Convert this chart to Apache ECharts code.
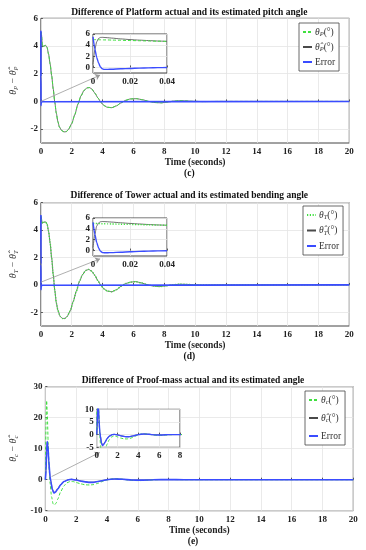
<!DOCTYPE html>
<html><head><meta charset="utf-8">
<script src="https://cdn.jsdelivr.net/npm/echarts@6/dist/echarts.min.js"></script>
<style>html,body{margin:0;padding:0;background:#fff}#c{width:366px;height:550px}</style>
</head><body><div id="c"></div>
<script>
// ---------- DATA ----------
var titles = ['Difference of Platform actual and its estimated pitch angle',
              'Difference of Tower actual and its estimated bending angle',
              'Difference of Proof-mass actual and its estimated angle'];
var subLetters = ['(c)', '(d)', '(e)'];
var xName = 'Time (seconds)';
var mainXTicks = [0, 20, 2];
var yTicksP = [-2, 0, 2, 4, 6];
var yTicksInset = [0, 2, 4, 6];

// Panel (c): platform pitch
var tP = [0, 0.005, 0.04, 0.1, 0.2, 0.3, 0.4, 0.5, 0.6, 0.7, 0.8, 0.9, 1.0, 1.1, 1.2, 1.35, 1.5, 1.65, 1.8, 2.0, 2.2, 2.4, 2.6, 2.8, 3.0, 3.15, 3.3, 3.5, 3.7, 3.9, 4.1, 4.3, 4.6, 4.9, 5.2, 5.5, 5.8, 6.2, 6.6, 7.0, 7.4, 7.8, 8.2, 8.6, 9.0, 9.4, 9.8, 10.5, 11.5, 20];
var thetaP = [5.0, 4.98, 4.8, 3.95, 4.0, 4.05, 3.9, 3.4, 2.7, 1.85, 0.9, -0.05, -0.85, -1.45, -1.85, -2.1, -2.2, -2.18, -2.0, -1.6, -0.95, -0.2, 0.4, 0.8, 0.98, 1.0, 0.9, 0.6, 0.25, -0.08, -0.3, -0.42, -0.45, -0.32, -0.1, 0.08, 0.18, 0.2, 0.12, 0.0, -0.08, -0.1, -0.05, 0.02, 0.05, 0.04, 0.01, -0.01, 0, 0];
var thetaPHat = [0, 5.0, 4.8, 3.95, 4.0, 4.05, 3.9, 3.4, 2.7, 1.85, 0.9, -0.05, -0.85, -1.45, -1.85, -2.1, -2.2, -2.18, -2.0, -1.6, -0.95, -0.2, 0.4, 0.8, 0.98, 1.0, 0.9, 0.6, 0.25, -0.08, -0.3, -0.42, -0.45, -0.32, -0.1, 0.08, 0.18, 0.2, 0.12, 0.0, -0.08, -0.1, -0.05, 0.02, 0.05, 0.04, 0.01, -0.01, 0, 0];
var tErrP = [0, 0.002, 0.005, 0.02, 0.04, 20];
var errP = [5.1, 1.8, -0.3, -0.15, -0.02, 0];
var tInP = [0, 0.001, 0.002, 0.003, 0.004, 0.005, 0.006, 0.008, 0.01, 0.015, 0.02, 0.025, 0.03, 0.035, 0.04];
var thetaPIn = [5.0, 4.99, 4.98, 4.97, 4.96, 4.95, 4.94, 4.93, 4.91, 4.87, 4.83, 4.79, 4.75, 4.71, 4.67];
var thetaPHatIn = [0.5, 3.2, 4.6, 5.2, 5.38, 5.4, 5.38, 5.33, 5.27, 5.12, 5.0, 4.9, 4.82, 4.74, 4.68];
var errPIn = [5.5, 3.3, 1.8, 0.8, 0.1, -0.25, -0.35, -0.35, -0.32, -0.25, -0.18, -0.12, -0.08, -0.04, -0.02];

// Panel (d): tower bending
var tT = [0, 0.005, 0.04, 0.1, 0.2, 0.3, 0.4, 0.5, 0.6, 0.7, 0.8, 0.9, 1.0, 1.1, 1.25, 1.4, 1.55, 1.7, 1.9, 2.1, 2.3, 2.5, 2.7, 2.9, 3.1, 3.3, 3.5, 3.7, 3.9, 4.1, 4.3, 4.6, 4.9, 5.2, 5.5, 5.8, 6.15, 6.5, 6.9, 7.3, 7.7, 8.1, 8.5, 9.0, 9.4, 9.9, 10.5, 11.5, 20];
var thetaT = [5.0, 4.98, 4.75, 4.5, 4.58, 4.6, 4.45, 3.9, 3.05, 1.95, 0.75, -0.4, -1.3, -1.85, -2.3, -2.45, -2.45, -2.3, -1.9, -1.2, -0.45, 0.25, 0.75, 1.05, 1.13, 1.0, 0.7, 0.3, -0.05, -0.3, -0.45, -0.5, -0.35, -0.1, 0.1, 0.2, 0.24, 0.15, 0.02, -0.09, -0.12, -0.07, 0.0, 0.05, 0.04, 0.01, -0.01, 0, 0];
var thetaTHat = [0, 5.0, 4.75, 4.5, 4.58, 4.6, 4.45, 3.9, 3.05, 1.95, 0.75, -0.4, -1.3, -1.85, -2.3, -2.45, -2.45, -2.3, -1.9, -1.2, -0.45, 0.25, 0.75, 1.05, 1.13, 1.0, 0.7, 0.3, -0.05, -0.3, -0.45, -0.5, -0.35, -0.1, 0.1, 0.2, 0.24, 0.15, 0.02, -0.09, -0.12, -0.07, 0.0, 0.05, 0.04, 0.01, -0.01, 0, 0];
var tErrT = [0, 0.002, 0.005, 0.02, 0.04, 20];
var errT = [5.1, 1.5, -0.35, -0.2, -0.03, 0];
var tInT = [0, 0.001, 0.002, 0.003, 0.004, 0.005, 0.006, 0.008, 0.01, 0.015, 0.02, 0.025, 0.03, 0.035, 0.04];
var thetaTIn = [5.0, 4.99, 4.98, 4.97, 4.96, 4.95, 4.94, 4.92, 4.9, 4.86, 4.82, 4.78, 4.74, 4.7, 4.66];
var thetaTHatIn = [0.5, 3.0, 4.5, 5.1, 5.3, 5.35, 5.34, 5.3, 5.25, 5.12, 5.0, 4.9, 4.8, 4.72, 4.66];
var errTIn = [5.2, 3.0, 1.5, 0.5, -0.1, -0.35, -0.4, -0.4, -0.37, -0.3, -0.22, -0.15, -0.1, -0.06, -0.03];

// Panel (e): proof-mass
var tC = [0, 0.04, 0.08, 0.12, 0.18, 0.25, 0.3, 0.4, 0.5, 0.6, 0.7, 0.8, 1.0, 1.2, 1.4, 1.6, 1.8, 2.0, 2.3, 2.6, 2.9, 3.1, 3.4, 3.7, 4.0, 4.3, 4.6, 4.9, 5.3, 5.7, 6.1, 6.5, 7.0, 7.5, 8.0, 9.0, 10, 20];
var thetaC = [0, 18, 25.5, 22, 12, 3, -1, -5.5, -7.8, -8.1, -7.5, -6.3, -3.8, -2.0, -1.0, -0.6, -0.6, -0.9, -1.35, -1.65, -1.7, -1.6, -1.2, -0.6, -0.05, 0.25, 0.35, 0.2, -0.05, -0.25, -0.3, -0.2, -0.05, 0.05, 0.05, 0, 0, 0];
var tErrC = [0, 0.04, 0.08, 0.12, 0.16, 0.22, 0.3, 0.35, 0.45, 0.55, 0.65, 0.8, 1.0, 1.2, 1.5, 1.7, 2.0, 2.4, 2.8, 3.1, 3.5, 4.0, 4.5, 5.0, 5.6, 6.2, 7.0, 8.0, 9.0, 20];
var errC = [0, 3, 9, 12.3, 11, 6, 1, -0.5, -3.2, -4.3, -4.0, -3.0, -1.6, -0.6, 0, 0.1, -0.1, -0.55, -0.85, -0.85, -0.5, 0, 0.25, 0.15, -0.1, -0.15, 0, 0.02, 0, 0];
var thetaCHat = [0, 2.9, 8.8, 12.0, 10.8, 5.9, 1.0, -0.4, -3.0, -4.1, -3.9, -2.9, -1.5, -0.6, 0, 0.1, -0.1, -0.5, -0.8, -0.8, -0.5, 0, 0.22, 0.14, -0.1, -0.14, 0, 0.02, 0, 0];

// ---------- STYLE / BUILD ----------
var SERIF = 'Liberation Serif';
var GREEN = '#3fe03f', GRAY = '#4a4a4a', BLUE = '#3a4cff';
function pts(t, v) { return t.map(function (x, i) { return [x, v[i]]; }); }

var mainGrids = [
  {left: 29.3, top: 18.3, width: 320, height: 124.7},
  {left: 29.3, top: 202.7, width: 320, height: 123.3},
  {left: 32.7, top: 386.7, width: 320.6, height: 124}
];
var insetGrids = [
  {left: 93, top: 34, width: 74, height: 39},
  {left: 93, top: 218, width: 74, height: 38},
  {left: 96.7, top: 409.3, width: 83.3, height: 38}
];
var grids = [];
mainGrids.forEach(function (g) {
  grids.push(Object.assign({show: true, borderColor: '#444', borderWidth: 1, backgroundColor: '#fff', z: 0}, g));
});
insetGrids.forEach(function (g) {
  grids.push(Object.assign({show: true, borderColor: '#444', borderWidth: 1, backgroundColor: '#fff', z: 10}, g));
});

var labelStyle = {fontFamily: SERIF, fontWeight: 'bold', fontSize: 9, color: '#222'};
function xAx(gi, min, max, interval, z, name) {
  return {
    type: 'value', gridIndex: gi, min: min, max: max, interval: interval, z: z,
    axisLine: {show: false}, axisTick: {show: true, inside: true, length: 2, lineStyle: {color: '#555'}},
    axisLabel: Object.assign({margin: 4, showMinLabel: true, showMaxLabel: true}, labelStyle),
    splitLine: {show: true, lineStyle: {color: '#e4e4e4', width: 0.8}},
    name: name || '', nameLocation: 'middle', nameGap: 15,
    nameTextStyle: {fontFamily: SERIF, fontWeight: 'bold', fontSize: 9.5, color: '#222'}
  };
}
function yAx(gi, min, max, interval, custom, z, nameRich, nameGap) {
  var a = {
    type: 'value', gridIndex: gi, min: min, max: max, z: z,
    axisLine: {show: false}, axisTick: {show: true, inside: true, length: 2, lineStyle: {color: '#555'}},
    axisLabel: Object.assign({margin: 3}, labelStyle),
    splitLine: {show: true, lineStyle: {color: '#e4e4e4', width: 0.8}}
  };
  if (custom) { a.axisTick.customValues = custom; a.axisLabel.customValues = custom; }
  else { a.interval = interval; }
  if (nameRich) {
    a.name = nameRich; a.nameLocation = 'middle'; a.nameRotate = 90; a.nameGap = nameGap;
    a.nameTextStyle = {
      rich: {
        i: {fontFamily: SERIF, fontStyle: 'italic', fontSize: 10, color: '#333', lineHeight: 13, verticalAlign: 'middle'},
        s: {fontFamily: SERIF, fontStyle: 'italic', fontSize: 6.5, color: '#333', verticalAlign: 'bottom'},
        n: {fontFamily: SERIF, fontSize: 10, color: '#333', lineHeight: 13, verticalAlign: 'middle'}
      }
    };
  }
  return a;
}

var xAxes = [
  xAx(0, mainXTicks[0], mainXTicks[1], mainXTicks[2], 1, xName),
  xAx(1, mainXTicks[0], mainXTicks[1], mainXTicks[2], 1, xName),
  xAx(2, mainXTicks[0], mainXTicks[1], mainXTicks[2], 1, xName),
  xAx(3, 0, 0.04, 0.02, 11),
  xAx(4, 0, 0.04, 0.02, 11),
  xAx(5, 0, 8, 2, 11)
];
var yAxes = [
  yAx(0, -3, 6, null, yTicksP, 1, '{i|θ}{s|P}{n| − }{i|θ\u0302}{s|P}', 11),
  yAx(1, -3, 6, null, yTicksP, 1, '{i|θ}{s|T}{n| − }{i|θ\u0302}{s|T}', 11),
  yAx(2, -10, 30, 10, null, 1, '{i|θ}{s|c}{n| − }{i|θ\u0302}{s|c}', 12),
  yAx(3, -1, 6, null, yTicksInset, 11),
  yAx(4, -1, 6, null, yTicksInset, 11),
  yAx(5, -5, 10, 5, null, 11)
];

function line(name, data, gi, color, width, type, z, extra) {
  return Object.assign({
    type: 'line', name: name, data: data, xAxisIndex: gi, yAxisIndex: gi,
    symbol: 'none', showSymbol: false, smooth: 0.2, smoothMonotone: 'x', animation: false, z: z,
    lineStyle: {color: color, width: width, type: type}, itemStyle: {color: color}
  }, extra || {});
}
function arrow(a, b) {
  return {markLine: {silent: true, animation: false, symbol: ['none', 'arrow'], symbolSize: 5,
    lineStyle: {color: '#9a9a9a', width: 0.8, type: 'solid'}, label: {show: false},
    emphasis: {disabled: true}, data: [[{coord: a}, {coord: b}]]}};
}
var nP = ['θP', 'θ\u0302P', 'Error'];
var nT = ['θT', 'θ\u0302T', 'Error '];
var nC = ['θc', 'θ\u0302c', 'Error  '];
var dashG = [3, 2], dotG = [1.2, 1.6];
var series = [
  line(nP[1], pts(tP, thetaPHat), 0, GRAY, 0.8, 'solid', 2),
  line(nP[0], pts(tP, thetaP), 0, GREEN, 1, dashG, 3),
  line(nP[2], pts(tErrP, errP), 0, BLUE, 1.6, 'solid', 4, arrow([0, 0], [3.84, 1.9])),
  line(nT[1], pts(tT, thetaTHat), 1, GRAY, 0.8, 'solid', 2),
  line(nT[0], pts(tT, thetaT), 1, GREEN, 1.4, dotG, 3),
  line(nT[2], pts(tErrT, errT), 1, BLUE, 1.6, 'solid', 4, arrow([0, 0.2], [3.84, 1.9])),
  line(nC[1], pts(tErrC, thetaCHat), 2, GRAY, 0.8, 'solid', 2),
  line(nC[0], pts(tC, thetaC), 2, GREEN, 1, dashG, 3),
  line(nC[2], pts(tErrC, errC), 2, BLUE, 1.6, 'solid', 4, arrow([0.4, 1], [3.53, 8.8])),
  // insets
  line('inP1', pts(tInP, thetaPHatIn), 3, GRAY, 0.8, 'solid', 12),
  line('inP0', pts(tInP, thetaPIn), 3, GREEN, 1, dashG, 13),
  line('inP2', pts(tInP, errPIn), 3, BLUE, 1.4, 'solid', 14),
  line('inT1', pts(tInT, thetaTHatIn), 4, GRAY, 0.8, 'solid', 12),
  line('inT0', pts(tInT, thetaTIn), 4, GREEN, 1.4, dotG, 13),
  line('inT2', pts(tInT, errTIn), 4, BLUE, 1.4, 'solid', 14),
  line('inC1', pts(tErrC, thetaCHat), 5, GRAY, 0.8, 'solid', 12),
  line('inC0', pts(tC, thetaC), 5, GREEN, 1, dashG, 13),
  line('inC2', pts(tErrC, errC), 5, BLUE, 1.4, 'solid', 14)
];

var legendRich = {
  i: {fontFamily: SERIF, fontStyle: 'italic', fontSize: 9.5, color: '#333', lineHeight: 12, verticalAlign: 'middle'},
  s: {fontFamily: SERIF, fontStyle: 'italic', fontSize: 6.5, color: '#333', verticalAlign: 'bottom'},
  n: {fontFamily: SERIF, fontSize: 9.5, color: '#333', lineHeight: 12, verticalAlign: 'middle'}
};
function legendFmt(name) {
  if (name.indexOf('Error') === 0) return '{n|Error}';
  var hat = name.indexOf('\u0302') > 0;
  var sub = name.charAt(name.length - 1);
  return '{i|' + (hat ? 'θ\u0302' : 'θ') + '}{s|' + sub + '}{n|(°)}';
}
function legend(names, left, top, gap) {
  return {
    orient: 'vertical', left: left, top: top, data: names, padding: [4, 4, 4, 3], itemGap: gap,
    itemWidth: 9, itemHeight: 8, borderColor: '#444', borderWidth: 0.8, backgroundColor: '#fff',
    itemStyle: {opacity: 0}, formatter: legendFmt, selectedMode: false, z: 20,
    textStyle: {fontFamily: SERIF, fontSize: 9.5, color: '#333', padding: [0, 0, 0, -2], rich: legendRich}
  };
}

var graphics = [];
var titleX = [189.3, 189.3, 193], titleY = [13, 196, 380.7];
var letterY = [173.5, 357, 541.7];
for (var k = 0; k < 3; k++) {
  graphics.push({type: 'text', x: titleX[k], y: titleY[k], z: 30,
    style: {text: titles[k], fontFamily: SERIF, fontWeight: 'bold', fontSize: 9.5, fill: '#111', textAlign: 'center', textVerticalAlign: 'middle'}});
  graphics.push({type: 'text', x: titleX[k], y: letterY[k], z: 30,
    style: {text: subLetters[k], fontFamily: SERIF, fontWeight: 'bold', fontSize: 9.5, fill: '#111', textAlign: 'center', textVerticalAlign: 'middle'}});
}

var chart = echarts.init(document.getElementById('c'), null, {renderer: 'canvas'});
chart.setOption({
  animation: false,
  backgroundColor: '#fff',
  grid: grids,
  xAxis: xAxes,
  yAxis: yAxes,
  legend: [legend(nP, 299, 23, 4), legend(nT, 303, 206, 4.5), legend(nC, 305, 391, 7)],
  series: series,
  graphic: graphics
});
</script></body></html>
